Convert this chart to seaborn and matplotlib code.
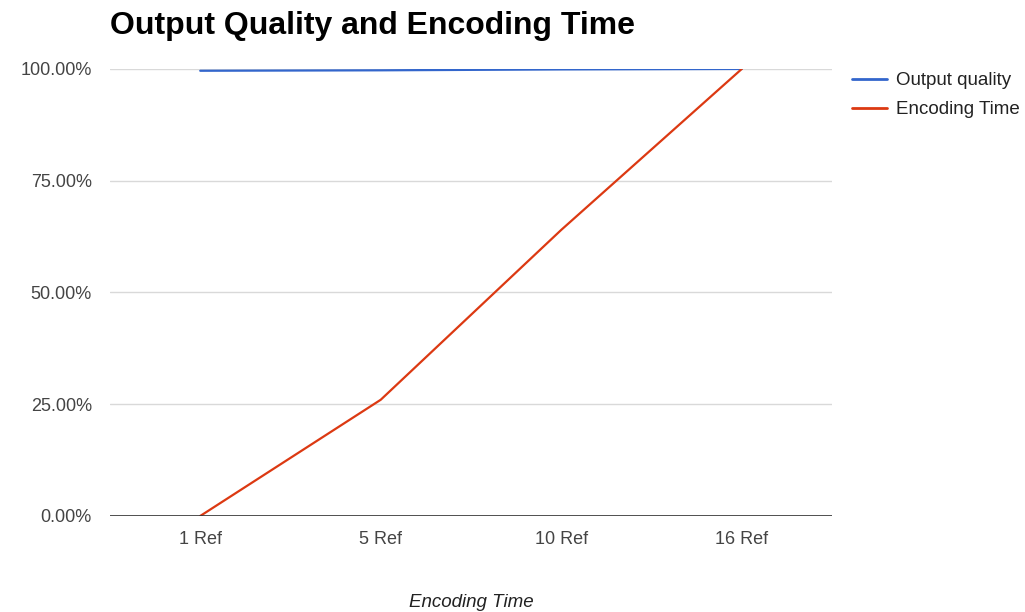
import pandas as pd
import matplotlib.pyplot as plt
import seaborn as sns
from matplotlib.ticker import PercentFormatter

# data
refs = ["1 Ref", "5 Ref", "10 Ref", "16 Ref"]
output_quality = [99.6, 99.7, 99.9, 100.0]
encoding_time = [0.0, 26.0, 64.0, 100.0]

df = pd.DataFrame({"Ref": refs, "Output quality": output_quality, "Encoding Time": encoding_time})
melted_df = df.melt(id_vars="Ref", var_name="Series", value_name="Value")

sns.set_style("white")
plt.rcParams["font.family"] = ["Liberation Sans", "DejaVu Sans"]

palette = {"Output quality": "#3366cc", "Encoding Time": "#dc3912"}

fig = plt.figure(figsize=(10.25, 6.12), dpi=100)
ax = fig.add_axes([0.1073, 0.1569, 0.7044, 0.7304])
sns.lineplot(data=melted_df, x="Ref", y="Value", hue="Series", palette=palette,
             linewidth=1.6, ax=ax, legend=False)

ax.set_xlim(-0.5, 3.5)
ax.set_ylim(0, 100)
ax.set_yticks([0, 25, 50, 75, 100])
ax.yaxis.set_major_formatter(PercentFormatter(decimals=2))
ax.grid(axis="y", color="#d9d9d9", linewidth=1)
ax.axhline(0, color="#333333", linewidth=1.2, zorder=3)
for s in ax.spines.values():
    s.set_visible(False)
ax.tick_params(axis="both", length=0, labelsize=13, colors="#444444")
ax.tick_params(axis="y", pad=13)
ax.tick_params(axis="x", pad=11)
ax.set_xlabel("Encoding Time", fontsize=13.5, style="italic", color="#222222", labelpad=33)
ax.set_ylabel("")

fig.text(0.1073, 0.957, "Output Quality and Encoding Time", fontsize=23, fontweight="bold",
         ha="left", va="center", color="#000000")

# legend
handles = [plt.Line2D([], [], color=palette[k], linewidth=2) for k in ["Output quality", "Encoding Time"]]
fig.legend(handles, ["Output quality", "Encoding Time"], loc="upper left",
           bbox_to_anchor=(0.831, 0.882), frameon=False, fontsize=13.5,
           borderpad=0, borderaxespad=0,
           handlelength=1.9, handletextpad=0.45, labelspacing=0.62, labelcolor="#222222")

plt.savefig("out.png", dpi=100)
